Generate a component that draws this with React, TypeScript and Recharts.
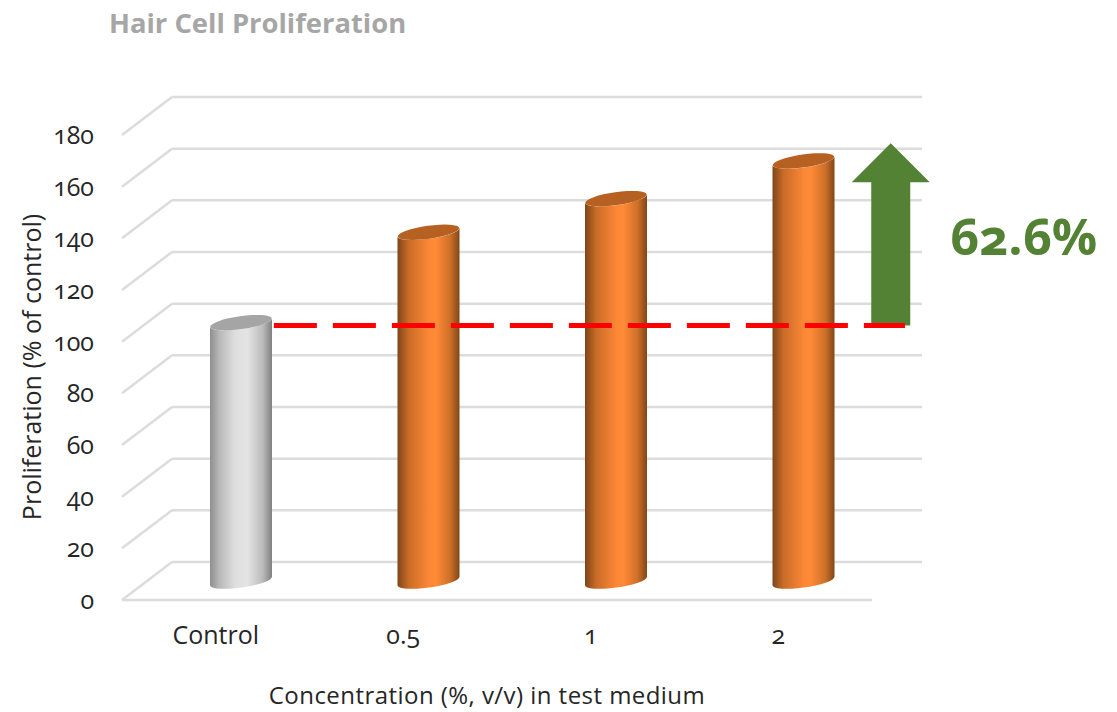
import React from "react";
import { ComposedChart, Bar, XAxis, YAxis, ReferenceLine } from "recharts";

const categories = ["Control", "0.5", "1", "2"];
const slots = [0, 1, 2, 3];
const proliferation = [100, 135, 148, 162.6];
const yTicks = [0, 20, 40, 60, 80, 100, 120, 140, 160, 180];
const title = "Hair Cell Proliferation";
const yLabel = "Proliferation (% of control)";
const xLabel = "Concentration (%, v/v) in test medium";
const gainLabel = "62.6%";

// depth of the 3D box, in data units
const depthX = 0.2667;
const depthY = 14.7;
const baselineValue = 106.3;

const data = categories.map((category, i) => ({ category, slot: slots[i], value: proliferation[i] }));

const FONT = "'Open Sans', sans-serif";
const GRID = "#dcdcdc";
const GREEN = "#548235";
const TICK = { fill: "#262626", fontSize: 25, fontFamily: FONT, style: { fontVariantNumeric: "oldstyle-nums" } };

const Cylinder = (props: any) => {
  const { x, y, width, height, index } = props;
  const isControl = index === 0;
  const id = isControl ? "cylGray" : "cylOrange";
  const cx = x + width / 2 + 25;
  const top = y - 19;
  const bottom = y + height - 19;
  const rx = width / 2;
  const ry = 6.5;
  const tilt = 4.2;
  const l = cx - rx;
  const r = cx + rx;
  const side = `M${l},${top + tilt} L${l},${bottom + tilt} A${rx},${ry} -8 0 0 ${r},${bottom - tilt} L${r},${top - tilt} A${rx},${ry} -8 0 1 ${l},${top + tilt} Z`;
  return (
    <g>
      <defs>
        <linearGradient id="cylGray" x1="0" x2="1" y1="0" y2="0">
          <stop offset="0" stopColor="#8e8e8e" />
          <stop offset="0.15" stopColor="#b8b8b8" />
          <stop offset="0.4" stopColor="#dedede" />
          <stop offset="0.6" stopColor="#e4e4e4" />
          <stop offset="0.85" stopColor="#bbbbbb" />
          <stop offset="1" stopColor="#808080" />
        </linearGradient>
        <linearGradient id="cylOrange" x1="0" x2="1" y1="0" y2="0">
          <stop offset="0" stopColor="#7f4518" />
          <stop offset="0.18" stopColor="#c96c28" />
          <stop offset="0.5" stopColor="#fb8635" />
          <stop offset="0.62" stopColor="#ff8a37" />
          <stop offset="0.85" stopColor="#cd7029" />
          <stop offset="1" stopColor="#824616" />
        </linearGradient>
      </defs>
      <path d={side} fill={`url(#${id})`} />
      <ellipse
        cx={cx}
        cy={top}
        rx={rx}
        ry={ry}
        transform={`rotate(-8 ${cx} ${top})`}
        fill={isControl ? "#a5a5a5" : "#b66122"}
      />
    </g>
  );
};

const Arrow = (props: any) => {
  const { x1, y1, y2 } = props;
  const xc = x1;
  const headY = y2 + 39;
  const points = [
    [xc - 19.5, y1],
    [xc - 19.5, headY],
    [xc - 39, headY],
    [xc, y2],
    [xc + 39, headY],
    [xc + 19.5, headY],
    [xc + 19.5, y1],
  ]
    .map((p) => p.join(","))
    .join(" ");
  return <polygon points={points} fill={GREEN} />;
};

export default function App() {
  return (
    <div
      style={{
        position: "fixed",
        left: 0,
        top: 0,
        width: 1117,
        height: 712,
        background: "#fff",
        fontFamily: FONT,
        overflow: "hidden",
      }}
    >
      <ComposedChart
        width={1117}
        height={712}
        data={data}
        margin={{ top: 97, right: 195, bottom: 0, left: 0 }}
      >
        <XAxis
          dataKey="category"
          xAxisId="cat"
          height={112}
          padding={{ left: 0, right: 50 }}
          axisLine={false}
          tickLine={false}
          tickMargin={20}
          tick={TICK}
        />
        <XAxis xAxisId="num" dataKey="slot" type="number" domain={[0, 4 + depthX]} allowDataOverflow hide />
        <YAxis
          type="number"
          width={122}
          domain={[0, 180 + depthY]}
          ticks={yTicks}
          allowDataOverflow
          axisLine={false}
          tickLine={false}
          tickMargin={22}
          tick={TICK}
        />
        {yTicks.map((v) => (
          <ReferenceLine
            key={`side-${v}`}
            xAxisId="num"
            ifOverflow="visible"
            stroke={GRID}
            strokeWidth={2.5}
            zIndex={100}
            segment={[
              { x: 0, y: v },
              { x: depthX, y: v + depthY },
            ]}
          />
        ))}
        {yTicks.map((v) => (
          <ReferenceLine
            key={`back-${v}`}
            xAxisId="num"
            ifOverflow="visible"
            stroke={GRID}
            strokeWidth={2.5}
            zIndex={100}
            segment={[
              { x: depthX, y: v + depthY },
              { x: 4 + depthX, y: v + depthY },
            ]}
          />
        ))}
        <ReferenceLine
          xAxisId="num"
          ifOverflow="visible"
          stroke={GRID}
          strokeWidth={2.5}
          zIndex={100}
          segment={[
            { x: 0, y: 0 },
            { x: 4, y: 0 },
          ]}
        />
        <Bar
          dataKey="value"
          xAxisId="cat"
          barSize={62}
          isAnimationActive={false}
          zIndex={300}
          shape={Cylinder}
        />
        <ReferenceLine
          xAxisId="num"
          ifOverflow="visible"
          stroke={GREEN}
          zIndex={500}
          shape={Arrow}
          segment={[
            { x: 4.1, y: baselineValue },
            { x: 4.1, y: baselineValue + 70.5 },
          ]}
        />
        <ReferenceLine
          xAxisId="num"
          ifOverflow="visible"
          stroke="#ff0000"
          strokeWidth={5}
          strokeDasharray="43 16"
          zIndex={600}
          segment={[
            { x: 0.81, y: baselineValue },
            { x: 4.176, y: baselineValue },
          ]}
        />
      </ComposedChart>
      <div style={{ position: "absolute", left: 109, top: 5, fontSize: 27.4, lineHeight: 1.3, fontWeight: 700, color: "#a6a6a6", whiteSpace: "nowrap" }}>
        {title}
      </div>
      <div style={{ position: "absolute", left: 487, top: 695, transform: "translate(-50%,-50%)", fontSize: 24, letterSpacing: 0.45, lineHeight: 1, color: "#262626", whiteSpace: "nowrap" }}>
        {xLabel}
      </div>
      <div style={{ position: "absolute", left: 31, top: 367, transform: "translate(-50%,-50%) rotate(-90deg)", fontSize: 25, lineHeight: 1, color: "#262626", whiteSpace: "nowrap" }}>
        {yLabel}
      </div>
      <div style={{ position: "absolute", left: 950, top: 235, transform: "translateY(-50%)", fontSize: 50.5, fontWeight: 700, color: GREEN, whiteSpace: "nowrap", fontVariantNumeric: "oldstyle-nums" }}>
        {gainLabel}
      </div>
    </div>
  );
}
